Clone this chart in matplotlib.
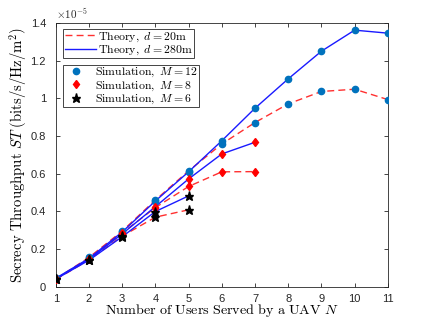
import matplotlib
matplotlib.use('Agg')
import matplotlib.pyplot as plt
from matplotlib.lines import Line2D
import numpy as np

plt.rcParams['mathtext.fontset'] = 'cm'
plt.rcParams['font.family'] = ['Liberation Sans', 'DejaVu Sans']

# secrecy throughput, units of 1e-5 bits/s/Hz/m^2
n12 = np.arange(1, 12)
st12_d280 = [0.044, 0.15, 0.29, 0.455, 0.61, 0.775, 0.948, 1.104, 1.251, 1.363, 1.347]
st12_d20 = [0.04, 0.155, 0.295, 0.46, 0.615, 0.758, 0.872, 0.971, 1.037, 1.049, 0.994]

n8 = np.arange(1, 8)
st8_d280 = [0.042, 0.145, 0.28, 0.425, 0.572, 0.705, 0.767]
st8_d20 = [0.038, 0.148, 0.285, 0.42, 0.532, 0.61, 0.611]

n6 = np.arange(1, 6)
st6_d280 = [0.04, 0.14, 0.265, 0.399, 0.482]
st6_d20 = [0.038, 0.142, 0.268, 0.369, 0.408]

red = '#ff3030'
blue = '#1a1aff'
mblue = '#0072BD'

fig = plt.figure(figsize=(4.29, 3.22), dpi=100)
ax = fig.add_axes([0.130, 0.110, 0.774, 0.818])

# theory curves
for n, y in [(n12, st12_d20), (n8, st8_d20), (n6, st6_d20)]:
    ax.plot(n, y, '--', color=red, lw=1.0, dashes=(5, 3), zorder=2)
for n, y in [(n12, st12_d280), (n8, st8_d280), (n6, st6_d280)]:
    ax.plot(n, y, '-', color=blue, lw=1.0, zorder=2)

# simulation points
ax.plot(n12, st12_d280, 'o', color=mblue, ms=4.5, ls='none', zorder=3)
ax.plot(n12, st12_d20, 'o', color=mblue, ms=4.5, ls='none', zorder=3)
ax.plot(n8, st8_d280, 'd', color='red', ms=4.5, ls='none', zorder=3)
ax.plot(n8, st8_d20, 'd', color='red', ms=4.5, ls='none', zorder=3)
ax.plot(n6, st6_d280, '*', color='black', ms=6.5, ls='none', zorder=4)
ax.plot(n6, st6_d20, '*', color='black', ms=6.5, ls='none', zorder=4)

ax.set_xlim(1, 11)
ax.set_ylim(0, 1.4)
ax.set_xticks(range(1, 12))
ax.set_yticks(np.arange(0, 1.41, 0.2))
ax.set_yticklabels(['0', '0.2', '0.4', '0.6', '0.8', '1', '1.2', '1.4'])
ax.tick_params(direction='in', length=3, width=0.6, top=True, right=True,
               labelsize=8, colors='#262626')
ax.tick_params(axis='x', pad=5)
ax.tick_params(axis='y', pad=7)
for s in ax.spines.values():
    s.set_color('#262626')
    s.set_linewidth(0.6)

ax.text(0.0, 1.01, r'$\times10^{-5}$', transform=ax.transAxes, fontsize=8,
        color='#262626', ha='left', va='bottom', family='DejaVu Sans')

ax.set_xlabel(r'$\mathrm{Number\ of\ Users\ Served\ by\ a\ UAV}\ N$', fontsize=10.2, labelpad=-1)
ax.set_ylabel(r'$\mathrm{Secrecy\ Throughput}\ ST\ \mathrm{(bits/s/Hz/m}^2\mathrm{)}$', fontsize=10.6, labelpad=1)

h1 = [Line2D([], [], color=red, ls='--', dashes=(5, 3), lw=1.0),
      Line2D([], [], color=blue, ls='-', lw=1.0)]
l1 = [r'$\mathrm{Theory,}\ d=20\mathrm{m}$', r'$\mathrm{Theory,}\ d=280\mathrm{m}$']
leg1 = ax.legend(h1, l1, loc='upper left', bbox_to_anchor=(0.023, 0.978), fontsize=8.5,
                 fancybox=False, edgecolor='#262626', framealpha=1, handlelength=2.7,
                 handletextpad=0.15, borderpad=0.1, labelspacing=0.0, borderaxespad=0)
leg1.get_frame().set_linewidth(0.6)
ax.add_artist(leg1)

h2 = [Line2D([], [], marker='o', color=mblue, ls='none', ms=4.5),
      Line2D([], [], marker='d', color='red', ls='none', ms=4.5),
      Line2D([], [], marker='*', color='black', ls='none', ms=6.5)]
l2 = [r'$\mathrm{Simulation,}\ M=12$', r'$\mathrm{Simulation,}\ M=8$', r'$\mathrm{Simulation,}\ M=6$']
leg2 = ax.legend(h2, l2, loc='upper left', bbox_to_anchor=(0.023, 0.842), fontsize=8.5,
                 fancybox=False, edgecolor='#262626', framealpha=1, handlelength=2.0,
                 handletextpad=0.6, borderpad=0.1, labelspacing=0.0, borderaxespad=0)
leg2.get_frame().set_linewidth(0.6)

fig.savefig('out.png', dpi=100)
